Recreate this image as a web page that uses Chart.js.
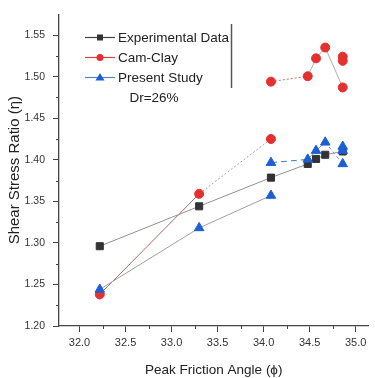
<!DOCTYPE html>
<html>
<head>
<meta charset="utf-8">
<script src="https://cdn.jsdelivr.net/npm/chart.js@4.4.1/dist/chart.umd.min.js"></script>
<style>
  html, body { margin: 0; padding: 0; background: #fff; }
  #wrap { width: 375px; height: 378px; }
</style>
</head>
<body>
<div id="wrap"><canvas id="shearChart"></canvas></div>
<script>
// values
const expX = [32.22, 33.3, 34.08, 34.48, 34.57, 34.67, 34.86];
const expY = [1.296, 1.344, 1.3785, 1.395, 1.401, 1.406, 1.410];

// Cam-Clay: lower branch, gap, upper branch
const camX = [32.22, 33.3, 34.08, null, 34.08, 34.48, 34.57, 34.67, 34.86];
const camY = [1.238, 1.359, 1.425, null, 1.494, 1.5005, 1.522, 1.535, 1.487];
const camExtraX = [34.86, 34.86];
const camExtraY = [1.524, 1.519];

// Present Study
const preX = [32.22, 33.3, 34.08, null, 34.08, 34.48, 34.57, 34.67, 34.86];
const preY = [1.244, 1.318, 1.357, null, 1.3965, 1.4005, 1.411, 1.421, 1.395];
const preExtraX = [34.86, 34.86];
const preExtraY = [1.416, 1.411];

const xTicks = [32.0, 32.5, 33.0, 33.5, 34.0, 34.5, 35.0];
const yTicks = [1.20, 1.25, 1.30, 1.35, 1.40, 1.45, 1.50, 1.55];

const seriesNames = ['Experimental Data', 'Cam-Clay', 'Present Study'];
const noteText = 'Dr=26%';

const toPoints = (xs, ys) => xs.map((x, i) => (x === null ? { x: NaN, y: null } : { x: x, y: ys[i] }));

const FONT = 'Liberation Sans, Arial, sans-serif';

// minor ticks + inside legend
const extrasPlugin = {
  id: 'extras',
  afterDraw(chart) {
    const ctx = chart.ctx;
    const xs = chart.scales.x, ys = chart.scales.y;
    const area = chart.chartArea;
    ctx.save();
    ctx.strokeStyle = '#444';
    ctx.lineWidth = 1;
    for (let i = 0; i < yTicks.length - 1; i++) {
      const py = Math.round(ys.getPixelForValue((yTicks[i] + yTicks[i + 1]) / 2)) + 0.5;
      ctx.beginPath(); ctx.moveTo(area.left - 3, py); ctx.lineTo(area.left, py); ctx.stroke();
    }
    for (let i = 0; i < xTicks.length - 1; i++) {
      const px = Math.round(xs.getPixelForValue((xTicks[i] + xTicks[i + 1]) / 2)) + 0.5;
      ctx.beginPath(); ctx.moveTo(px, area.bottom); ctx.lineTo(px, area.bottom + 3); ctx.stroke();
    }

    // legend
    const lx0 = 85, lx1 = 115, tx = 118;
    const rows = [37, 57, 77];
    const lineCols = ['#444', '#d04545', '#5d82c0'];
    ctx.font = '13.5px ' + FONT;
    ctx.textBaseline = 'middle';
    rows.forEach((ry, i) => {
      ctx.strokeStyle = lineCols[i];
      ctx.lineWidth = 1.2;
      ctx.beginPath(); ctx.moveTo(lx0, ry + 0.5); ctx.lineTo(lx1, ry + 0.5); ctx.stroke();
      const cx = (lx0 + lx1) / 2;
      if (i === 0) { ctx.fillStyle = '#333'; ctx.fillRect(cx - 3, ry - 2.5, 6, 6); }
      if (i === 1) { ctx.fillStyle = '#e53030'; ctx.beginPath(); ctx.arc(cx, ry + 0.5, 3.5, 0, Math.PI * 2); ctx.fill(); }
      if (i === 2) {
        ctx.fillStyle = '#1b5fd6'; ctx.beginPath();
        ctx.moveTo(cx, ry - 4); ctx.lineTo(cx + 4.5, ry + 3.5); ctx.lineTo(cx - 4.5, ry + 3.5); ctx.closePath(); ctx.fill();
      }
      ctx.fillStyle = '#222';
      ctx.textAlign = 'left';
      ctx.fillText(seriesNames[i], tx, ry + 1);
    });
    ctx.textAlign = 'center';
    ctx.fillText(noteText, 154, 98);
    ctx.strokeStyle = '#555';
    ctx.lineWidth = 1.5;
    ctx.beginPath(); ctx.moveTo(231.5, 24); ctx.lineTo(231.5, 88); ctx.stroke();
    ctx.restore();
  }
};

const segStyle = (rules) => ({
  borderColor: c => (rules[c.p0DataIndex] || rules.def).color,
  borderDash: c => (rules[c.p0DataIndex] || rules.def).dash
});

const ctx = document.getElementById('shearChart').getContext('2d');
new Chart(ctx, {
  type: 'line',
  data: {
    datasets: [
      {
        label: seriesNames[2],
        data: toPoints(preX, preY),
        borderColor: '#999',
        borderWidth: 1,
        pointStyle: 'triangle',
        pointRadius: 5.5,
        pointBackgroundColor: '#1b5fd6',
        pointBorderColor: '#1b5fd6',
        spanGaps: false,
        segment: segStyle({
          4: { color: '#4d78c4', dash: [6, 4] },
          7: { color: '#7b98c8', dash: [3, 3] },
          def: { color: '#a0a0a0', dash: [] }
        })
      },
      {
        label: 'pre-extra',
        data: toPoints(preExtraX, preExtraY),
        showLine: false,
        pointStyle: 'triangle',
        pointRadius: 5.5,
        pointBackgroundColor: '#1b5fd6',
        pointBorderColor: '#1b5fd6'
      },
      {
        label: seriesNames[0],
        data: toPoints(expX, expY),
        borderColor: '#909090',
        borderWidth: 1,
        pointStyle: 'rect',
        pointRadius: 5,
        pointBackgroundColor: '#333',
        pointBorderColor: '#333'
      },
      {
        label: seriesNames[1],
        data: toPoints(camX, camY),
        borderColor: '#aaa',
        borderWidth: 1,
        pointStyle: 'circle',
        pointRadius: 4.5,
        pointBackgroundColor: '#e53030',
        pointBorderColor: '#e53030',
        spanGaps: false,
        segment: segStyle({
          0: { color: '#a06a6a', dash: [] },
          1: { color: '#c09a9a', dash: [2, 2] },
          4: { color: '#d06a6a', dash: [2, 2] },
          def: { color: '#b4acac', dash: [] }
        })
      },
      {
        label: 'cam-extra',
        data: toPoints(camExtraX, camExtraY),
        showLine: false,
        pointStyle: 'circle',
        pointRadius: 4.5,
        pointBackgroundColor: '#e53030',
        pointBorderColor: '#e53030'
      }
    ]
  },
  options: {
    responsive: true,
    maintainAspectRatio: false,
    animation: false,
    layout: { padding: { top: 13, right: 0, left: 0, bottom: 0 } },
    plugins: {
      legend: { display: false },
      tooltip: { enabled: false }
    },
    scales: {
      x: {
        type: 'linear',
        min: 31.777,
        max: 35.14,
        afterFit: s => { s.height = 52; },
        afterBuildTicks: s => { s.ticks = xTicks.map(v => ({ value: v })); },
        border: { color: '#444', width: 1.3 },
        grid: { display: true, drawOnChartArea: false, color: '#444', tickLength: 6 },
        ticks: {
          color: '#333',
          padding: 4,
          maxRotation: 0,
          font: { family: FONT, size: 11 },
          callback: v => v.toFixed(1)
        },
        title: {
          display: true,
          text: 'Peak Friction Angle (ϕ)',
          color: '#222',
          font: { family: FONT, size: 13.5 },
          padding: { top: 0, bottom: 0 }
        }
      },
      y: {
        type: 'linear',
        min: 1.20,
        max: 1.575,
        afterFit: s => { s.width = 59; },
        afterBuildTicks: s => { s.ticks = yTicks.map(v => ({ value: v })); },
        border: { color: '#444', width: 1.3 },
        grid: { display: true, drawOnChartArea: false, color: '#444', tickLength: 6 },
        ticks: {
          color: '#333',
          padding: 8,
          font: { family: FONT, size: 10.5 },
          callback: v => v.toFixed(2)
        },
        title: {
          display: true,
          text: 'Shear Stress Ratio (η)',
          color: '#222',
          font: { family: FONT, size: 15 },
          padding: { top: 6, bottom: 0 }
        }
      }
    }
  },
  plugins: [extrasPlugin]
});
</script>
</body>
</html>
